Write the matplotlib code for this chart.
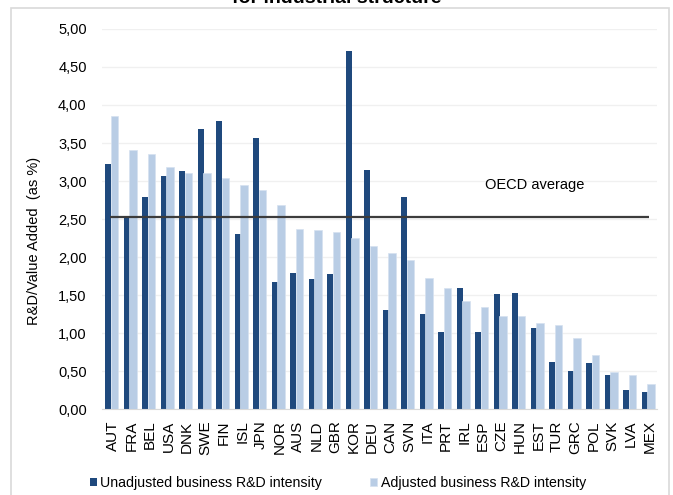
import matplotlib.pyplot as plt
import matplotlib.patches as mpatches
from matplotlib.ticker import FuncFormatter
import numpy as np

plt.rcParams['font.family'] = ['Liberation Sans', 'DejaVu Sans']

countries = ["AUT", "FRA", "BEL", "USA", "DNK", "SWE", "FIN", "ISL", "JPN", "NOR",
             "AUS", "NLD", "GBR", "KOR", "DEU", "CAN", "SVN", "ITA", "PRT", "IRL",
             "ESP", "CZE", "HUN", "EST", "TUR", "GRC", "POL", "SVK", "LVA", "MEX"]
unadjusted = [3.23, 2.51, 2.79, 3.07, 3.13, 3.69, 3.79, 2.31, 3.56, 1.67,
              1.79, 1.71, 1.78, 4.71, 3.15, 1.31, 2.79, 1.25, 1.02, 1.59,
              1.02, 1.52, 1.53, 1.07, 0.62, 0.50, 0.61, 0.45, 0.25, 0.23]
adjusted = [3.85, 3.41, 3.35, 3.18, 3.11, 3.10, 3.04, 2.95, 2.88, 2.69,
            2.37, 2.36, 2.33, 2.25, 2.15, 2.05, 1.96, 1.72, 1.59, 1.43,
            1.35, 1.23, 1.22, 1.14, 1.11, 0.94, 0.71, 0.49, 0.45, 0.33]
oecd_avg = 2.53

dark = "#1F497D"
light = "#B9CDE5"

fig = plt.figure(figsize=(6.73, 4.95), dpi=100)
ax = fig.add_axes([102 / 673, 85.7 / 495, 555 / 673, 380.4 / 495])

x = np.arange(len(countries))
ax.bar(x - 0.16, unadjusted, width=0.34, color=dark, zorder=2,
       label="Unadjusted business R&D intensity")
ax.bar(x + 0.17, adjusted, width=0.40, color=light, edgecolor="#d6e2f0",
       linewidth=0.5, zorder=3, label="Adjusted business R&D intensity")

# OECD average line and its label
ax.hlines(oecd_avg, -0.07, 29.07, color="#3c3c3c", linewidth=1.6, zorder=4)
ax.text(22.9, 2.95, "OECD average", ha="center", va="center", fontsize=10.5)

ax.set_xlim(-0.5, len(countries) - 0.5)
ax.set_ylim(0, 5)
ax.set_yticks(np.arange(0, 5.01, 0.5))
ax.yaxis.set_major_formatter(FuncFormatter(lambda v, p: f"{v:.2f}".replace(".", ",")))
ax.set_xticks(x + 0.1)
ax.set_xticklabels(countries, rotation=90, fontsize=11)
ax.tick_params(axis="y", length=0, pad=11, labelsize=10.5)
ax.tick_params(axis="x", length=0, pad=8)
ax.grid(axis="y", color="#f0f0f0", linewidth=1, zorder=0)
for side in ["top", "right", "left"]:
    ax.spines[side].set_visible(False)
ax.spines["bottom"].set_color("#d9d9d9")

fig.text(34 / 673, 1 - 241 / 495, "R&D/Value Added  (as %)", rotation=90,
         ha="center", va="center", fontsize=10.5)

leg = ax.legend(ncol=2, loc="center", bbox_to_anchor=(338 / 673, 11.7 / 495),
                bbox_transform=fig.transFigure, frameon=False, fontsize=10.2,
                handlelength=0.5, handleheight=0.5, handletextpad=0.25,
                columnspacing=3.4)

# chart title (mostly above the visible area) and outer frame
fig.text(0.5, 1 - 3 / 495, "for industrial structure", ha="center",
         va="baseline", fontsize=14, fontweight="bold")
frame = mpatches.Rectangle((11 / 673, -0.02), 658 / 673, 1.02 - 8 / 495,
                           transform=fig.transFigure, fill=False,
                           edgecolor="#d9d9d9", linewidth=1.2)
fig.add_artist(frame)

fig.savefig("out.png", dpi=100)
